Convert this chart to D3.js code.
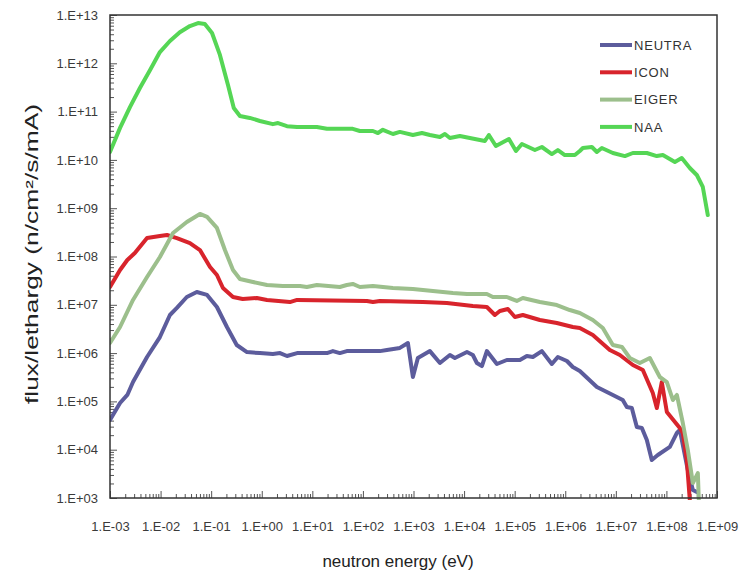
<!DOCTYPE html>
<html>
<head>
<meta charset="utf-8">
<script src="https://cdn.jsdelivr.net/npm/d3@7"></script>
<style>
  body { margin: 0; background: #fff; }
  .tick text { font-family: "Liberation Sans", Arial, sans-serif; font-size: 13px; fill: #3a3a3a; }
</style>
</head>
<body>
<div id="plot"></div>
<script>
// energy (eV), flux/lethargy pairs
var neutra = [[1e-3,4.12e4],[1.58e-3,9.27e4],[2.2e-3,1.36e5],[2.85e-3,2.52e5],[5.4e-3,8.3e5],[9.7e-3,2.15e6],[1.53e-2,6.15e6],[2.1e-2,8.6e6],[3.3e-2,1.45e7],[5.2e-2,1.84e7],[8.3e-2,1.6e7],[0.13,9.0e6],[0.205,3.47e6],[0.32,1.47e6],[0.51,1.05e6],[0.92,1.0e6],[1.66,9.57e5],[2.3,1.0e6],[3.15,8.7e5],[5.0,1.0e6],[19.4,1.0e6],[25.5,1.1e6],[35,1.0e6],[48,1.1e6],[217,1.1e6],[298,1.16e6],[538,1.28e6],[775,1.62e6],[973,3.2e5],[1220,7.92e5],[2110,1.1e6],[3330,6.24e5],[5240,9.14e5],[6580,7.92e5],[1.14e4,1.05e6],[1.49e4,9.14e5],[1.79e4,6.24e5],[2.25e4,5.4e5],[2.82e4,1.1e6],[4.45e4,5.95e5],[7.0e4,7.2e5],[1.27e5,7.2e5],[1.74e5,8.7e5],[2.29e5,8.3e5],[3.45e5,1.1e6],[5.43e5,5.95e5],[7.14e5,8.3e5],[1.08e6,6.86e5],[1.41e6,5.15e5],[1.94e6,4.26e5],[4.22e6,1.99e5],[8.73e6,1.36e5],[1.37e7,1.07e5],[1.65e7,7.66e4],[2.07e7,7.3e4],[2.6e7,2.95e4],[3.27e7,2.81e4],[4.1e7,1.59e4],[5.14e7,6.12e3],[6.76e7,7.76e3],[1.17e8,1.14e4],[1.61e8,2.22e4],[1.84e8,2.56e4],[2.65e8,3.8e3],[3.33e8,1.47e3],[3.99e8,1.33e3]];

var icon = [[1e-3,2.34e7],[1.58e-3,5.25e7],[2.2e-3,8.47e7],[3.1e-3,1.18e8],[5.4e-3,2.41e8],[9.7e-3,2.66e8],[1.34e-2,2.79e8],[2.1e-2,2.41e8],[3.8e-2,1.9e8],[6.0e-2,1.36e8],[9.5e-2,6.06e7],[0.13,4.14e7],[0.171,2.23e7],[0.27,1.45e7],[0.42,1.32e7],[0.8,1.38e7],[1.27,1.26e7],[3.6,1.14e7],[5.0,1.26e7],[120,1.2e7],[158,1.14e7],[217,1.2e7],[1530,1.14e7],[4570,1.09e7],[1.49e4,9.45e6],[2.82e4,9.0e6],[4.06e4,6.15e6],[5.1e4,7.45e6],[7.35e4,8.2e6],[1.01e5,5.59e6],[1.45e5,6.15e6],[3.15e5,4.84e6],[6.82e5,4.2e6],[1.41e6,3.47e6],[1.94e6,3.31e6],[3.51e6,2.37e6],[7.6e6,1.16e6],[1.2e7,9.14e5],[2.17e7,5.67e5],[3.42e7,4.47e5],[5.38e7,1.49e5],[6.46e7,7.3e4],[8.1e7,2.52e5],[1.02e8,6.04e4],[1.84e8,2.81e4],[2.11e8,2.22e4],[2.53e8,6.12e3],[2.9e8,9.1e2]];

var eiger = [[1e-3,1.62e6],[1.58e-3,3.47e6],[2.85e-3,1.26e7],[5.4e-3,3.76e7],[9.7e-3,9.77e7],[1.76e-2,3.07e8],[3.3e-2,5.18e8],[6.0e-2,7.6e8],[8.3e-2,6.6e8],[0.13,3.9e8],[0.187,1.36e8],[0.27,5.25e7],[0.37,3.42e7],[0.67,2.97e7],[1.27,2.57e7],[2.6,2.45e7],[5.7,2.45e7],[7.8,2.34e7],[12.3,2.57e7],[35,2.34e7],[48,2.57e7],[63,2.7e7],[87,2.34e7],[158,2.45e7],[392,2.23e7],[973,2.12e7],[2420,1.93e7],[6010,1.75e7],[1.14e4,1.67e7],[2.82e4,1.67e7],[3.71e4,1.45e7],[7.0e4,1.45e7],[1.1e5,1.2e7],[1.45e5,1.38e7],[3.15e5,1.14e7],[6.82e5,9.9e6],[1.23e6,7.8e6],[1.94e6,6.77e6],[3.51e6,4.84e6],[5.53e6,3.31e6],[8.73e6,1.47e6],[1.32e7,1.34e6],[1.89e7,7.92e5],[2.98e7,6.24e5],[4.7e7,7.92e5],[7.4e7,3.2e5],[1.02e8,2.52e5],[1.34e8,1.07e5],[1.61e8,1.36e5],[2.11e8,3.57e4],[2.65e8,9.86e3],[3.33e8,2.04e3],[4.18e8,3.29e3],[4.37e8,9.1e2]];

var naa = [[1e-3,1.46e10],[1.58e-3,4.6e10],[2.48e-3,1.24e11],[3.9e-3,3.08e11],[6.2e-3,7.3e11],[9.7e-3,1.71e12],[1.53e-2,2.9e12],[2.4e-2,4.4e12],[3.8e-2,5.9e12],[5.5e-2,6.8e12],[7.5e-2,6.5e12],[0.104,4.24e12],[0.149,1.49e12],[0.215,3.56e11],[0.28,1.19e11],[0.37,8.1e10],[0.58,7.4e10],[0.92,6.4e10],[1.66,5.5e10],[2.1,5.8e10],[3.15,5.0e10],[5.0,4.8e10],[12.3,4.8e10],[19.4,4.4e10],[63,4.4e10],[87,3.97e10],[158,3.97e10],[198,3.6e10],[248,4.2e10],[392,3.44e10],[538,3.8e10],[973,3.28e10],[1470,3.6e10],[2110,3.28e10],[3330,2.98e10],[4180,3.44e10],[5240,2.84e10],[8260,3.13e10],[1.3e4,2.84e10],[2.05e4,2.58e10],[2.58e4,2.46e10],[3.09e4,3.28e10],[4.25e4,1.94e10],[7.7e4,2.71e10],[1.06e5,1.53e10],[1.39e5,2.13e10],[2.51e5,1.6e10],[3.45e5,1.85e10],[5.43e5,1.32e10],[7.14e5,1.6e10],[9.8e5,1.26e10],[1.55e6,1.26e10],[1.94e6,1.53e10],[2.23e6,1.76e10],[3.36e6,1.85e10],[4.22e6,1.46e10],[5.29e6,1.76e10],[8.73e6,1.39e10],[1.51e7,1.2e10],[2.17e7,1.39e10],[4.1e7,1.39e10],[6.46e7,1.2e10],[8.5e7,1.26e10],[1.47e8,9.05e9],[2.01e8,1.09e10],[2.9e8,6.8e9],[3.99e8,4.87e9],[5.24e8,2.75e9],[6.58e8,7.2e8]];

var seriesNames = ['NEUTRA','ICON','EIGER','NAA'];
var seriesColors = ['#5c5c9c','#d8242c','#9cbf8c','#55d655'];
var xTicks = [1e-3,1e-2,1e-1,1e0,1e1,1e2,1e3,1e4,1e5,1e6,1e7,1e8,1e9];
var yTicks = [1e3,1e4,1e5,1e6,1e7,1e8,1e9,1e10,1e11,1e12,1e13];

var margin = {t:15, r:30, b:77, l:110};
var W = 747, H = 575;
var width = W - margin.l - margin.r,
    height = H - margin.t - margin.b;

var svg = d3.select('#plot').append('svg')
    .attr('width', W)
    .attr('height', H);

var plot = svg.append('g')
    .attr('transform', 'translate(' + margin.l + ',' + margin.t + ')');

var x = d3.scaleLog().domain([1e-3, 1e9]).range([0, width]);
var y = d3.scaleLog().domain([1e3, 1e13]).range([height, 0]);

function fmt(v){
    var p = Math.round(Math.log10(v));
    return '1.E' + (p < 0 ? '-' : '+') + String(Math.abs(p)).padStart(2, '0');
}

// minor ticks 2..9 in each decade
function minors(ticks){
    var m = [];
    for (var i = 0; i < ticks.length - 1; i++)
        for (var k = 2; k < 10; k++) m.push(ticks[i] * k);
    return m;
}

var minorStyle = function(g){ g.select('.domain').remove(); g.selectAll('text').remove(); g.selectAll('line').attr('stroke', '#555'); };

plot.append('g').call(d3.axisLeft(y).tickValues(minors(yTicks)).tickSize(-4)).call(minorStyle);
plot.append('g').attr('transform', 'translate(0,' + height + ')')
    .call(d3.axisBottom(x).tickValues(minors(xTicks)).tickSize(-4)).call(minorStyle);

plot.append('g')
    .call(d3.axisLeft(y).tickValues(yTicks).tickFormat(fmt).tickSize(-7).tickPadding(12))
    .call(function(g){ g.select('.domain').remove(); g.selectAll('line').attr('stroke', '#555'); });

plot.append('g').attr('transform', 'translate(0,' + height + ')')
    .call(d3.axisBottom(x).tickValues(xTicks).tickFormat(fmt).tickSize(-7).tickPadding(24))
    .call(function(g){ g.select('.domain').remove(); g.selectAll('line').attr('stroke', '#555'); });

plot.append('clipPath').attr('id', 'clip')
    .append('rect').attr('width', width).attr('height', height + 2);

var line = d3.line()
    .x(function(d){ return x(d[0]); })
    .y(function(d){ return y(d[1]); });

[neutra, icon, eiger, naa].forEach(function(s, i){
    plot.append('path')
        .datum(s)
        .attr('clip-path', 'url(#clip)')
        .attr('d', line)
        .attr('fill', 'none')
        .attr('stroke', seriesColors[i])
        .attr('stroke-width', 4)
        .attr('stroke-linejoin', 'round')
        .attr('stroke-linecap', 'round');
});

plot.append('rect')
    .attr('width', width).attr('height', height)
    .attr('fill', 'none').attr('stroke', '#333').attr('stroke-width', 1.5);

// legend
var legend = svg.append('g').attr('transform', 'translate(600,45)');
seriesNames.forEach(function(n, i){
    var g = legend.append('g').attr('transform', 'translate(0,' + (i * 27.3) + ')');
    g.append('line').attr('x1', 0).attr('x2', 32)
        .attr('stroke', seriesColors[i]).attr('stroke-width', 4);
    g.append('text').attr('x', 34).attr('dy', '0.36em')
        .attr('font-family', '"Liberation Sans", Arial, sans-serif')
        .attr('font-size', 13).attr('letter-spacing', 0.8).attr('fill', '#333')
        .text(n);
});

svg.append('text')
    .attr('x', 398).attr('y', 567)
    .attr('text-anchor', 'middle')
    .attr('font-family', 'Arial, "Liberation Sans", sans-serif')
    .attr('font-size', 17).attr('fill', '#222')
    .text('neutron energy (eV)');

svg.append('text')
    .attr('transform', 'translate(38,254) rotate(-90)')
    .attr('text-anchor', 'middle')
    .attr('font-family', 'Arial, "Liberation Sans", sans-serif')
    .attr('font-size', 18).attr('fill', '#222')
    .attr('textLength', 300).attr('lengthAdjust', 'spacingAndGlyphs')
    .text('flux/lethargy (n/cm\u00b2/s/mA)');
</script>
</body>
</html>
